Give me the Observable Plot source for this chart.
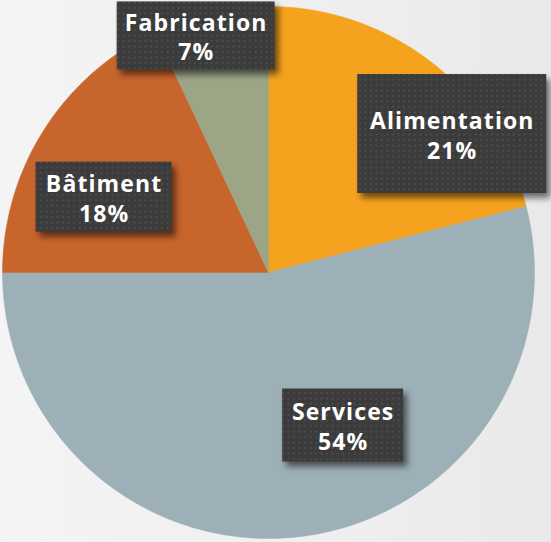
<!DOCTYPE html>
<html>
<head>
<meta charset="utf-8">
<script src="https://cdn.jsdelivr.net/npm/d3@7"></script>
<script src="https://cdn.jsdelivr.net/npm/@observablehq/plot@0.6"></script>
<style>
  html, body { margin: 0; padding: 0; background: #f0f0f0; }
  #chart { width: 551px; height: 542px; }
</style>
</head>
<body>
<div id="chart"></div>
<script>
// ---- data ----
const categories = ["Alimentation", "Services", "Bâtiment", "Fabrication"];
const shares = [21, 54, 18, 7];
const colors = ["#F5A31F", "#9DB0B7", "#C8652D", "#9CA586"];

// ---- layout (label placement relative to slice middle) ----
const labelRadius = {Alimentation: 0.865, Services: 0.64, "Bâtiment": 0.68, Fabrication: 0.93};
const labelTurn = {Alimentation: 15.2, Services: -18.8, "Bâtiment": -7.8, Fabrication: -4.4}; // degrees
const boxSize = {Alimentation: [189, 119], Services: [121, 73], "Bâtiment": [136, 70], Fabrication: [158, 68]};
const R = 266; // px per unit radius

const rows = categories.map((c, i) => ({category: c, share: shares[i]}));
const arcs = d3.pie().sort(null).value(d => d.share).startAngle(0).endAngle(2 * Math.PI)(rows);

// polygon outline of each slice (centre + arc)
const slicePts = [];
for (const a of arcs) {
  slicePts.push({category: a.data.category, x: 0, y: 0});
  const n = Math.max(2, Math.ceil((a.endAngle - a.startAngle) / 0.01));
  for (let k = 0; k <= n; ++k) {
    const t = a.startAngle + (a.endAngle - a.startAngle) * k / n;
    slicePts.push({category: a.data.category, x: Math.sin(t), y: Math.cos(t)});
  }
  slicePts.push({category: a.data.category, x: 0, y: 0});
}

const labels = arcs.map(a => {
  const c = a.data.category;
  const mid = (a.startAngle + a.endAngle) / 2 + labelTurn[c] * Math.PI / 180;
  const r = labelRadius[c];
  const x = r * Math.sin(mid), y = r * Math.cos(mid);
  const [w, h] = boxSize[c];
  return {
    category: c, share: a.data.share, x, y,
    x1: x - w / 2 / R, x2: x + w / 2 / R, y1: y - h / 2 / R, y2: y + h / 2 / R,
    text: `${c}\n${a.data.share}%`
  };
});

const defsMark = () => {
  const defs = d3.create("svg:defs");
  const p = defs.append("pattern").attr("id", "dots").attr("patternUnits", "userSpaceOnUse")
    .attr("width", 5.5).attr("height", 5.5);
  p.append("rect").attr("width", 5.5).attr("height", 5.5).attr("fill", "#3b3b3b");
  p.append("rect").attr("x", 1.5).attr("y", 1.5).attr("width", 2).attr("height", 2).attr("fill", "#4d4d4d");
  return defs.node();
};

const chart = Plot.plot({
  width: 551,
  height: 542,
  margin: 0,
  x: {domain: [-1, 1], range: [2, 534], axis: null},
  y: {domain: [-1, 1], range: [538, 6], axis: null},
  color: {domain: categories, range: colors},
  style: {background: "linear-gradient(90deg, #f4f4f4 0%, #efefef 60%, #e9e9e9 100%)"},
  marks: [
    defsMark,
    Plot.line(slicePts, {x: "x", y: "y", z: "category", fill: "category", stroke: "category", strokeWidth: 0.5, curve: "linear"}),
    Plot.rect(labels, {x1: "x1", x2: "x2", y1: "y1", y2: "y2", fill: "#3b3b3b"}),
    Plot.text(labels, {
      x: "x", y: "y", text: "text",
      fill: "#ffffff", fontSize: 23, fontWeight: "bold",
      fontFamily: "'Open Sans', Lato, sans-serif",
      lineHeight: 1.3, textAnchor: "middle", lineAnchor: "middle"
    })
  ]
});

document.getElementById("chart").appendChild(chart);
const svg = d3.select(chart);
svg.selectAll('g[aria-label="rect"] rect').attr("fill", "url(#dots)")
  .style("filter", "drop-shadow(4px 5px 3px rgba(0,0,0,0.55))");
svg.selectAll('g[aria-label="text"] text')
  .style("letter-spacing", "1.1px")
  .style("font-variant-ligatures", "none");
</script>
</body>
</html>
